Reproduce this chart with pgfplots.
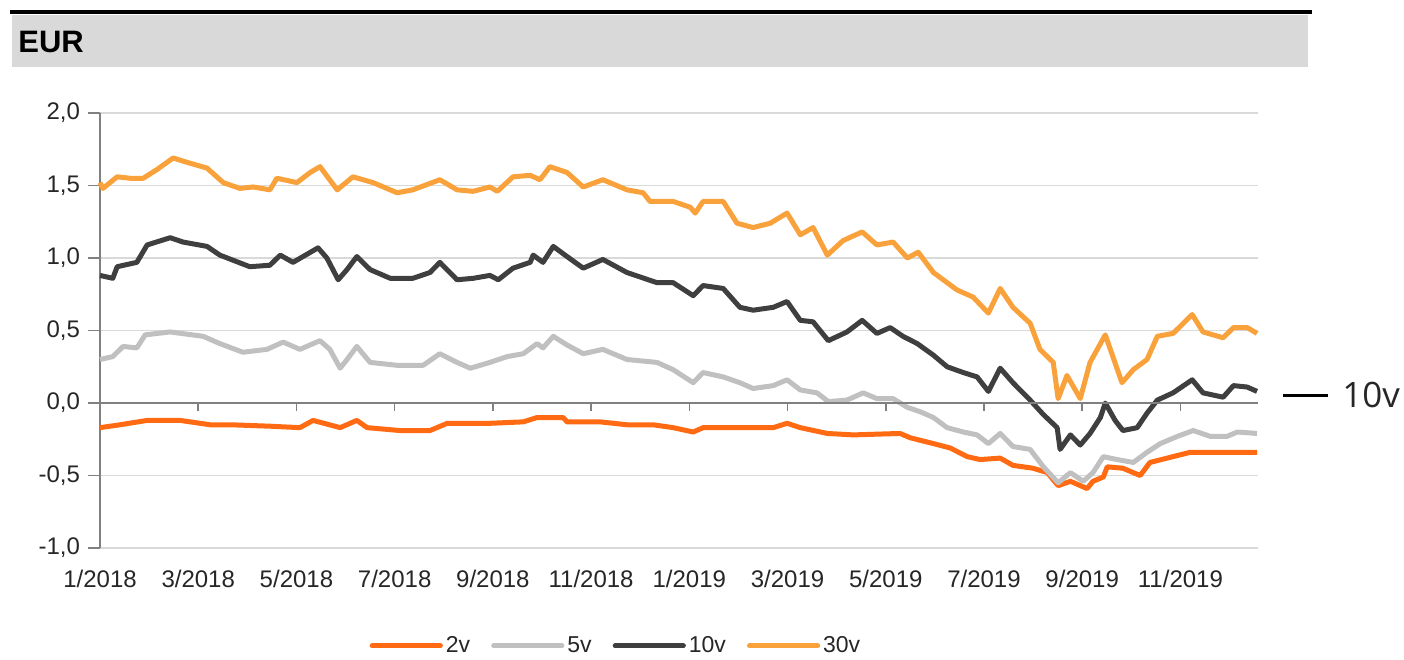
\documentclass[border=0pt]{standalone}
\usepackage{pgfplots}
\pgfplotsset{compat=1.18}
\usepackage{fontspec}
\setmainfont{Liberation Sans}
\newfontfamily\annfont{Open Sans}
\definecolor{c2}{HTML}{FF6A13}
\definecolor{c5}{HTML}{C0C0C0}
\definecolor{c10}{HTML}{3F3F3F}
\definecolor{c30}{HTML}{F9A13A}
\definecolor{gridc}{HTML}{D9D9D9}
\definecolor{axc}{HTML}{808080}
\definecolor{txt}{HTML}{262626}
\begin{document}
\begin{tikzpicture}
\path (0pt,0pt) rectangle (702pt,-329pt);
\fill[gridc] (6pt,-7.5pt) rectangle (654pt,-33.5pt);
\draw[line width=2.2pt,black] (5pt,-6pt) -- (656pt,-6pt);
\node[anchor=west,inner sep=0pt,font=\fontsize{15.5}{18}\selectfont\bfseries] at (9pt,-21pt) {EUR};
\draw[line width=1.5pt,black] (641.5pt,-197.5pt) -- (664pt,-197.5pt);
\node[anchor=west,inner sep=0pt,text=txt,font=\annfont\fontsize{17.5}{20}\selectfont] at (671pt,-197.5pt) {10v};
\begin{axis}[
  at={(50pt,-274pt)}, anchor=south west,
  width=579pt, height=217.5pt, scale only axis,
  xmin=0, xmax=23.58, ymin=-1, ymax=2,
  axis x line*=bottom, axis y line*=left,
  x axis line style={draw=gridc,line width=0.8pt},
  y axis line style={draw=axc,line width=0.8pt,-},
  ytick={-1,-0.5,0,0.5,1,1.5,2},
  yticklabels={{-1,0},{-0,5},{0,0},{0,5},{1,0},{1,5},{2,0}},
  ymajorgrids, grid style={gridc,line width=0.8pt},
  xtick={0,2,...,22},
  xticklabels={1/2018,3/2018,5/2018,7/2018,9/2018,11/2018,1/2019,3/2019,5/2019,7/2019,9/2019,11/2019},
  x tick style={draw=none},
  y tick style={draw=axc,line width=0.8pt},
  tick align=outside, major tick length=6pt,
  ticklabel style={font=\fontsize{12}{14}\selectfont,text=txt},
  yticklabel style={xshift=-0.5pt},
  xticklabel style={yshift=-1.5pt},
  legend columns=4,
  legend style={at={(0.446,-0.225)},anchor=center,draw=none,fill=none,
    font=\fontsize{11.5}{13}\selectfont,text=txt,
    nodes={inner xsep=1.5pt},
    /tikz/every even column/.append style={column sep=9pt},inner sep=0pt},
  legend image code/.code={\draw[#1,line width=2.6pt,line cap=round] (0pt,0pt) -- (34pt,0pt);},
  every axis plot/.append style={line width=2.5pt,line join=round},
  clip=false,
]
\addplot[c2] coordinates {
(0.00,-0.17)(0.41,-0.15)(0.96,-0.12)(1.63,-0.12)(2.24,-0.15)(2.65,-0.15)(3.46,-0.16)(4.07,-0.17)(4.34,-0.12)(4.89,-0.17)(5.23,-0.12)(5.44,-0.17)(6.11,-0.19)(6.72,-0.19)(7.07,-0.14)(7.94,-0.14)(8.62,-0.13)(8.90,-0.10)(9.16,-0.10)(9.43,-0.10)(9.51,-0.13)(10.18,-0.13)(10.73,-0.15)(11.26,-0.15)(11.67,-0.17)(12.08,-0.20)(12.28,-0.17)(13.71,-0.17)(13.99,-0.14)(14.26,-0.17)(14.81,-0.21)(15.34,-0.22)(16.29,-0.21)(16.50,-0.24)(16.97,-0.28)(17.31,-0.31)(17.66,-0.37)(17.92,-0.39)(18.33,-0.38)(18.59,-0.43)(19.00,-0.45)(19.29,-0.48)(19.51,-0.57)(19.76,-0.54)(20.10,-0.59)(20.22,-0.54)(20.43,-0.51)(20.51,-0.44)(20.83,-0.45)(21.18,-0.50)(21.38,-0.41)(21.73,-0.38)(22.20,-0.34)(22.61,-0.34)(23.08,-0.34)(23.56,-0.34)
};
\addlegendentry{2v}
\addplot[c5] coordinates {
(0.00,0.30)(0.26,0.32)(0.47,0.39)(0.75,0.38)(0.92,0.47)(1.43,0.49)(2.10,0.46)(2.44,0.41)(2.91,0.35)(3.40,0.37)(3.73,0.42)(4.07,0.37)(4.48,0.43)(4.68,0.37)(4.89,0.24)(5.03,0.30)(5.23,0.39)(5.50,0.28)(6.05,0.26)(6.58,0.26)(6.92,0.34)(7.27,0.28)(7.54,0.24)(7.94,0.28)(8.29,0.32)(8.62,0.34)(8.90,0.41)(9.02,0.38)(9.23,0.46)(9.51,0.40)(9.84,0.34)(10.24,0.37)(10.73,0.30)(11.34,0.28)(11.67,0.23)(12.08,0.14)(12.28,0.21)(12.69,0.18)(13.03,0.14)(13.30,0.10)(13.71,0.12)(13.99,0.16)(14.26,0.09)(14.60,0.07)(14.83,0.01)(15.21,0.02)(15.54,0.07)(15.82,0.03)(16.15,0.03)(16.44,-0.03)(16.70,-0.06)(16.97,-0.10)(17.25,-0.17)(17.58,-0.20)(17.86,-0.22)(18.09,-0.28)(18.33,-0.21)(18.59,-0.30)(18.94,-0.32)(19.21,-0.44)(19.51,-0.55)(19.76,-0.48)(20.02,-0.54)(20.22,-0.48)(20.43,-0.37)(20.71,-0.39)(21.04,-0.41)(21.32,-0.34)(21.59,-0.28)(21.94,-0.23)(22.26,-0.19)(22.61,-0.23)(22.95,-0.23)(23.16,-0.20)(23.56,-0.21)
};
\addlegendentry{5v}
\addplot[c10] coordinates {
(0.00,0.88)(0.26,0.86)(0.35,0.94)(0.75,0.97)(0.96,1.09)(1.43,1.14)(1.69,1.11)(2.18,1.08)(2.44,1.02)(3.05,0.94)(3.46,0.95)(3.67,1.02)(3.93,0.97)(4.44,1.07)(4.62,1.00)(4.85,0.85)(5.03,0.92)(5.23,1.01)(5.50,0.92)(5.91,0.86)(6.37,0.86)(6.72,0.90)(6.92,0.97)(7.27,0.85)(7.60,0.86)(7.94,0.88)(8.11,0.85)(8.41,0.93)(8.76,0.97)(8.82,1.02)(9.02,0.97)(9.23,1.08)(9.51,1.01)(9.84,0.93)(10.24,0.99)(10.73,0.90)(11.34,0.83)(11.67,0.83)(12.08,0.74)(12.28,0.81)(12.69,0.79)(13.03,0.66)(13.30,0.64)(13.71,0.66)(13.99,0.70)(14.26,0.57)(14.52,0.56)(14.83,0.43)(15.21,0.49)(15.52,0.57)(15.82,0.48)(16.09,0.52)(16.35,0.46)(16.64,0.41)(16.97,0.33)(17.25,0.25)(17.58,0.21)(17.86,0.18)(18.09,0.08)(18.33,0.24)(18.59,0.14)(18.94,0.02)(19.21,-0.08)(19.49,-0.17)(19.55,-0.32)(19.76,-0.22)(19.96,-0.29)(20.16,-0.21)(20.37,-0.10)(20.47,0.00)(20.67,-0.12)(20.83,-0.19)(21.12,-0.17)(21.32,-0.07)(21.53,0.02)(21.85,0.07)(22.24,0.16)(22.46,0.07)(22.87,0.04)(23.08,0.12)(23.36,0.11)(23.56,0.08)
};
\addlegendentry{10v}
\addplot[c30] coordinates {
(0.00,1.52)(0.06,1.48)(0.35,1.56)(0.61,1.55)(0.88,1.55)(1.16,1.61)(1.49,1.69)(1.77,1.66)(2.18,1.62)(2.51,1.52)(2.85,1.48)(3.12,1.49)(3.46,1.47)(3.60,1.55)(4.01,1.52)(4.28,1.59)(4.48,1.63)(4.83,1.47)(5.15,1.56)(5.56,1.52)(6.05,1.45)(6.37,1.47)(6.92,1.54)(7.27,1.47)(7.60,1.46)(7.94,1.49)(8.09,1.46)(8.41,1.56)(8.76,1.57)(8.96,1.54)(9.16,1.63)(9.51,1.59)(9.84,1.49)(10.24,1.54)(10.73,1.47)(11.06,1.45)(11.20,1.39)(11.67,1.39)(12.02,1.35)(12.12,1.31)(12.28,1.39)(12.69,1.39)(12.97,1.24)(13.30,1.21)(13.65,1.24)(13.99,1.31)(14.26,1.16)(14.52,1.21)(14.81,1.02)(15.13,1.12)(15.52,1.18)(15.82,1.09)(16.15,1.11)(16.44,1.00)(16.66,1.04)(16.97,0.90)(17.17,0.85)(17.45,0.78)(17.78,0.73)(18.09,0.62)(18.33,0.79)(18.59,0.66)(18.94,0.55)(19.14,0.37)(19.41,0.28)(19.51,0.03)(19.69,0.19)(19.96,0.03)(20.16,0.28)(20.47,0.47)(20.81,0.14)(21.04,0.23)(21.32,0.30)(21.53,0.46)(21.85,0.48)(22.24,0.61)(22.46,0.49)(22.87,0.45)(23.08,0.52)(23.36,0.52)(23.56,0.48)
};
\addlegendentry{30v}
\draw[axc,line width=0.8pt] (axis cs:0,0) -- (axis cs:23.58,0);
\pgfplotsinvokeforeach{2,4,...,22}{\draw[axc,line width=0.8pt] (axis cs:#1,0) -- ++(0pt,-4pt);}
\end{axis}
\end{tikzpicture}
\end{document}
